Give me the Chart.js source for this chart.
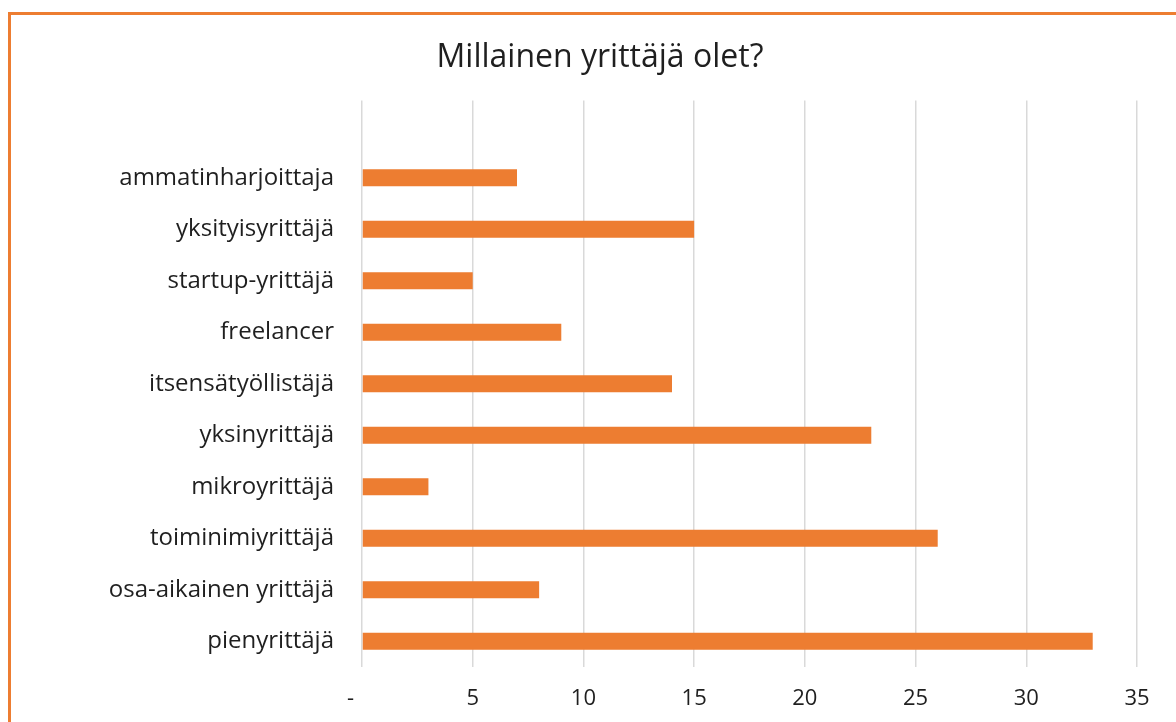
<!DOCTYPE html>
<html>
<head>
<meta charset="utf-8">
<script src="https://cdn.jsdelivr.net/npm/chart.js@4/dist/chart.umd.min.js"></script>
<style>
  html, body { margin: 0; padding: 0; background: #fff; overflow: hidden; }
  #wrap { position: relative; width: 1176px; height: 722px; }
  #kehys { position: absolute; left: 8px; top: 12px; width: 1300px; height: 900px;
           border-left: 3px solid #ed7d31; border-top: 3px solid #ed7d31; }
  canvas { position: absolute; left: 0; top: 0; }
</style>
</head>
<body>
<div id="wrap">
  <div id="kehys"></div>
  <canvas id="kaavio" width="1176" height="722"></canvas>
</div>
<script>
// Vastausvaihtoehdot ja vastausmäärät; ylin rivi on Excelin tyhjä rivi
const tyypit = [
  '', 'ammatinharjoittaja', 'yksityisyrittäjä', 'startup-yrittäjä', 'freelancer',
  'itsensätyöllistäjä', 'yksinyrittäjä', 'mikroyrittäjä', 'toiminimiyrittäjä',
  'osa-aikainen yrittäjä', 'pienyrittäjä'
];
const vastaukset = [null, 7, 15, 5, 9, 14, 23, 3, 26, 8, 33];
const xMax = 35;
const xAskel = 5;

const fontti = "'Open Sans', 'Liberation Sans', sans-serif";
const teksti = '#1f1f1f';

new Chart(document.getElementById('kaavio'), {
  type: 'bar',
  data: {
    labels: tyypit,
    datasets: [{
      data: vastaukset,
      backgroundColor: '#ed7d31',
      barPercentage: 0.66,
      categoryPercentage: 0.5
    }]
  },
  options: {
    indexAxis: 'y',
    responsive: false,
    animation: false,
    // vasen täyte siirtää otsikon keskelle kuten alkuperäisessä
    layout: { padding: { left: 63, right: 39, top: 0, bottom: 0 } },
    plugins: {
      legend: { display: false },
      tooltip: { enabled: false },
      title: {
        display: true,
        text: 'Millainen yrittäjä olet?',
        color: teksti,
        font: { family: fontti, size: 32, weight: 'normal' },
        padding: { top: 39, bottom: 23 }
      }
    },
    scales: {
      x: {
        min: 0,
        max: xMax,
        ticks: {
          stepSize: xAskel,
          color: teksti,
          font: { family: fontti, size: 22 },
          padding: 19,
          // Excelin kirjanpitomuoto: nolla näkyy viivana hieman vasemmalla
          callback: v => v === 0 ? '-    ' : v
        },
        grid: { color: '#d9d9d9', lineWidth: 1.5, drawTicks: false },
        border: { display: false },
        afterFit: s => { s.height = 55; }
      },
      y: {
        ticks: {
          color: teksti,
          font: { family: fontti, size: 24 },
          padding: 28
        },
        grid: { display: false, drawTicks: false },
        border: { display: false },
        afterFit: s => { s.width = 299; }
      }
    }
  }
});
</script>
</body>
</html>
